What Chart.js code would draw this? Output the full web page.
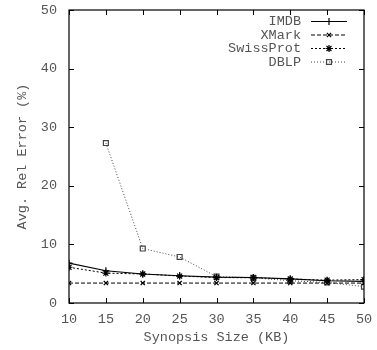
<!DOCTYPE html>
<html>
<head>
<meta charset="utf-8">
<script src="https://cdn.jsdelivr.net/npm/chart.js@4.4.1/dist/chart.umd.min.js"></script>
<style>
  html, body { margin: 0; padding: 0; background: #fff; }
  #wrap { width: 377px; height: 350px; position: relative; }
</style>
</head>
<body>
<div id="wrap"><canvas id="chart"></canvas></div>
<script>
// data
const sizes = [10, 15, 20, 25, 30, 35, 40, 45, 50];
const imdb      = [6.8, 5.5, 4.95, 4.65, 4.4, 4.35, 4.1, 3.8, 3.7];
const xmark     = [3.4, 3.4, 3.4, 3.4, 3.4, 3.4, 3.4, 3.4, 3.4];
const swissprot = [6.1, 5.1, 4.95, 4.6, 4.35, 4.3, 4.1, 3.9, 4.0];
const dblp      = [null, 27.3, 9.3, 7.85, 4.5, 4.3, 3.8, 3.5, 2.8];
const xTicks = [10, 15, 20, 25, 30, 35, 40, 45, 50];
const yTicks = [0, 10, 20, 30, 40, 50];

const FONT = '"Liberation Mono", "DejaVu Sans Mono", monospace';
const TXT = '#555';

function pts(vals) {
    return sizes.map((x, i) => ({ x: x, y: vals[i] })).filter(p => p.y !== null);
}

const series = [
    { label: 'IMDB', data: pts(imdb), dash: [], style: 'cross', color: '#000', width: 1.2, radius: 3.5 },
    { label: 'XMark', data: pts(xmark), dash: [4, 2], style: 'crossRot', color: '#000', width: 1, radius: 3 },
    { label: 'SwissProt', data: pts(swissprot), dash: [2, 2], style: 'star', color: '#000', width: 1, radius: 3.5 },
    { label: 'DBLP', data: pts(dblp), dash: [1, 2], style: 'rect', color: '#444', width: 1, radius: 3.5 }
];

// gnuplot-like frame, inward ticks and key
const framePlugin = {
    id: 'frame',
    afterDatasetsDraw(chart) {
        const { ctx, chartArea: a, scales } = chart;
        ctx.save();
        ctx.strokeStyle = '#000';
        ctx.lineWidth = 1.2;
        ctx.setLineDash([]);
        ctx.strokeRect(a.left, a.top, a.right - a.left, a.bottom - a.top);
        ctx.lineWidth = 1;
        const tl = 5;
        ctx.beginPath();
        xTicks.forEach(v => {
            const x = Math.round(scales.x.getPixelForValue(v)) + 0.5;
            ctx.moveTo(x, a.bottom); ctx.lineTo(x, a.bottom - tl);
            ctx.moveTo(x, a.top); ctx.lineTo(x, a.top + tl);
        });
        yTicks.forEach(v => {
            const y = Math.round(scales.y.getPixelForValue(v)) + 0.5;
            ctx.moveTo(a.left, y); ctx.lineTo(a.left + tl, y);
            ctx.moveTo(a.right, y); ctx.lineTo(a.right - tl, y);
        });
        ctx.stroke();

        // key
        ctx.font = '13.5px ' + FONT;
        ctx.textAlign = 'right';
        ctx.textBaseline = 'middle';
        const rowY = [21.5, 35, 48.5, 62];
        chart.data.datasets.forEach((ds, i) => {
            const s = series[i];
            const y = rowY[i];
            ctx.fillStyle = TXT;
            ctx.fillText(ds.label, 301, y);
            ctx.strokeStyle = s.color;
            ctx.lineWidth = s.width;
            ctx.setLineDash(s.dash);
            ctx.beginPath();
            ctx.moveTo(311, y); ctx.lineTo(347, y);
            ctx.stroke();
            ctx.setLineDash([]);
            ctx.fillStyle = 'rgba(0,0,0,0)';
            ctx.lineWidth = 1.2;
            Chart.helpers.drawPoint(ctx, {
                pointStyle: s.style, radius: s.radius, borderWidth: 1.2, rotation: 0
            }, 329, y);
        });
        ctx.restore();
    }
};

new Chart(document.getElementById('chart'), {
    type: 'line',
    data: {
        datasets: series.map(s => ({
            label: s.label,
            data: s.data,
            borderColor: s.color,
            borderWidth: s.width,
            borderDash: s.dash,
            pointStyle: s.style,
            pointRadius: s.radius,
            pointBorderColor: s.color,
            pointBorderWidth: 1.2,
            pointBackgroundColor: 'rgba(0,0,0,0)',
            fill: false,
            tension: 0
        }))
    },
    options: {
        responsive: true,
        maintainAspectRatio: false,
        animation: false,
        layout: { padding: { top: 10, right: 13, left: 0, bottom: 0 } },
        plugins: { legend: { display: false }, tooltip: { enabled: false } },
        scales: {
            x: {
                type: 'linear', min: 10, max: 50,
                afterBuildTicks: s => { s.ticks = xTicks.map(v => ({ value: v })); },
                afterFit: s => { s.height = 47; s.paddingLeft = 0; s.paddingRight = 0; },
                grid: { display: false, drawTicks: false },
                border: { display: false },
                ticks: { color: TXT, padding: 8, maxRotation: 0, font: { family: FONT, size: 13.5 } },
                title: { display: true, text: 'Synopsis Size (KB)', color: TXT, padding: { top: 5 }, font: { family: FONT, size: 13.5 } }
            },
            y: {
                type: 'linear', min: 0, max: 50,
                afterBuildTicks: s => { s.ticks = yTicks.map(v => ({ value: v })); },
                afterFit: s => { s.width = 69; s.paddingTop = 0; s.paddingBottom = 0; },
                grid: { display: false, drawTicks: false },
                border: { display: false },
                ticks: { color: TXT, padding: 12, font: { family: FONT, size: 13.5 } },
                title: { display: true, text: 'Avg. Rel Error (%)', color: TXT, padding: { top: 14, bottom: 0 }, font: { family: FONT, size: 13.5 } }
            }
        }
    },
    plugins: [framePlugin]
});
</script>
</body>
</html>
